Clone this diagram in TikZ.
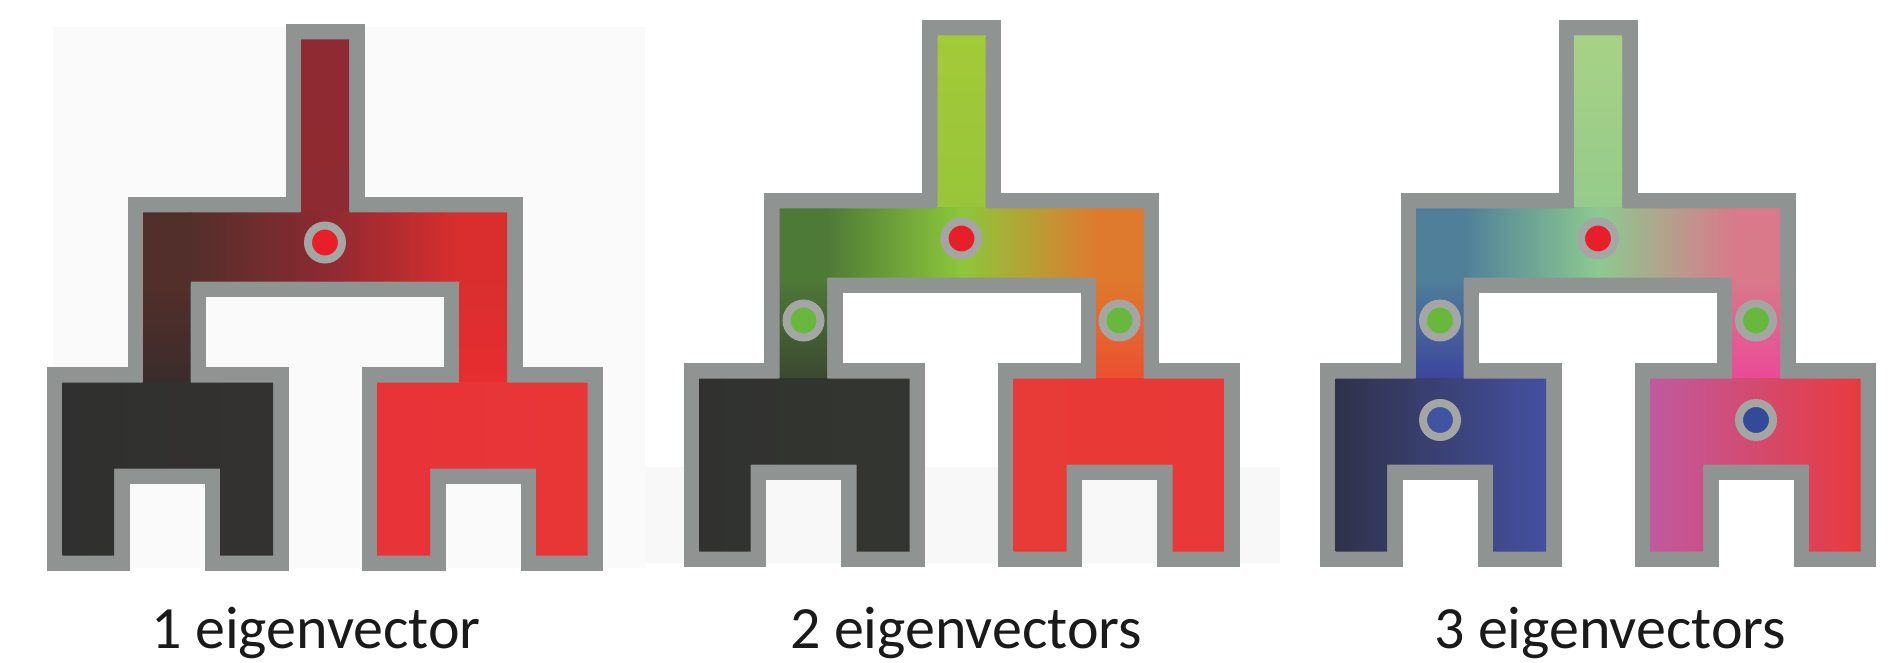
\documentclass[tikz,border=0pt]{standalone}
\usepackage{fontspec}
\setmainfont{Carlito}
\usepackage{xcolor}
\usepackage{tikz}

\definecolor{bordergray}{HTML}{8F9493}
\definecolor{ringgray}{HTML}{A4A6A4}
\definecolor{backdrop}{HTML}{FAFAFA}
\definecolor{backdropband}{HTML}{F8F8F8}
\definecolor{dotred}{HTML}{E81E28}
\definecolor{dotgreen}{HTML}{68B83E}
\definecolor{dotblueA}{HTML}{3F55A2}
\definecolor{dotblueB}{HTML}{34499A}
\definecolor{labelblack}{HTML}{1A1A1A}

% one eigenvector: dark to red
\definecolor{stemT1}{HTML}{902A32}\definecolor{stemB1}{HTML}{8E2A31}
\definecolor{barL1}{HTML}{532F2B}\definecolor{barML1}{HTML}{752B2F}\definecolor{barC1}{HTML}{8C2A31}
\definecolor{barMR1}{HTML}{AE2C31}\definecolor{barR1}{HTML}{DA2E2E}
\definecolor{armLB1}{HTML}{3A2C2C}\definecolor{armRB1}{HTML}{E72D30}
\definecolor{blkLL1}{HTML}{2F302F}\definecolor{blkLM1}{HTML}{3A2C2C}\definecolor{blkLR1}{HTML}{343230}
\definecolor{blkRL1}{HTML}{E83438}\definecolor{blkRM1}{HTML}{E72D30}\definecolor{blkRR1}{HTML}{E83536}

% two eigenvectors: green / orange
\definecolor{stemT2}{HTML}{A3CA37}\definecolor{stemB2}{HTML}{98C53B}
\definecolor{barL2}{HTML}{4E7A37}\definecolor{barML2}{HTML}{74B63C}\definecolor{barC2}{HTML}{8CC73B}
\definecolor{barMR2}{HTML}{ACC038}\definecolor{barR2}{HTML}{DE7A2E}
\definecolor{armLB2}{HTML}{3B4831}\definecolor{armRB2}{HTML}{EC5030}
\definecolor{blkLL2}{HTML}{313230}\definecolor{blkLM2}{HTML}{3B4831}\definecolor{blkLR2}{HTML}{333630}
\definecolor{blkRL2}{HTML}{E83A36}\definecolor{blkRM2}{HTML}{EB4832}\definecolor{blkRR2}{HTML}{E83838}

% three eigenvectors: blue / pink
\definecolor{stemT3}{HTML}{A6D284}\definecolor{stemB3}{HTML}{96CB8C}
\definecolor{barL3}{HTML}{4F7F99}\definecolor{barML3}{HTML}{72BC93}\definecolor{barC3}{HTML}{8CCA90}
\definecolor{barMR3}{HTML}{B6B890}\definecolor{barR3}{HTML}{D87A8A}
\definecolor{armLB3}{HTML}{3C469C}\definecolor{armRB3}{HTML}{EB4A97}
\definecolor{blkLL3}{HTML}{30324A}\definecolor{blkLM3}{HTML}{3C469C}\definecolor{blkLR3}{HTML}{4450A0}
\definecolor{blkRL3}{HTML}{C05AA0}\definecolor{blkRM3}{HTML}{EB4A97}\definecolor{blkRR3}{HTML}{E83A3E}

% outline of one tree, centred on x=0
\newcommand{\treeshape}{(-24,39.5) -- (24,39.5) -- (24,212.5) -- (182,212.5) -- (182,382.5)
  -- (262.5,382.5) -- (262.5,555.5) -- (211,555.5) -- (211,468.5) -- (105,468.5) -- (105,555.5)
  -- (52,555.5) -- (52,382.5) -- (134.5,382.5) -- (134.5,281.5) -- (-134.5,281.5) -- (-134.5,382.5)
  -- (-52,382.5) -- (-52,555.5) -- (-105,555.5) -- (-105,468.5) -- (-211,468.5) -- (-211,555.5)
  -- (-262.5,555.5) -- (-262.5,382.5) -- (-182,382.5) -- (-182,212.5) -- (-24,212.5) -- cycle}

\begin{document}
\begin{tikzpicture}[x=1pt, y=-1pt,
    treeborder/.style={draw=bordergray, line width=31pt},
    dot/.style={circle, draw=ringgray, line width=8pt, minimum size=34pt, inner sep=0pt},
    caption/.style={anchor=base, text=labelblack, font=\fontsize{60pt}{72pt}\selectfont}]
  \useasboundingbox (0,0) rectangle (1900,663);
  \fill[backdrop] (53,27) rectangle (645,568);
  \fill[backdropband] (645,467) rectangle (1280,563);

  % the three trees
  \foreach \t/\cx/\dy in {1/325/0, 2/961.5/-4, 3/1598/-4} {
    \begin{scope}[shift={(\cx,\dy)}]
      \draw[treeborder] \treeshape;
      \begin{scope}
        \clip \treeshape;
        \shade[top color=stemT\t, bottom color=stemB\t] (-25,39) rectangle (25,213);
        % cross bar, flat over the arms
        \fill[barL\t] (-183,212) rectangle (-134.5,282.5);
        \shade[left color=barL\t, middle color=barML\t, right color=barC\t] (-135,212) rectangle (0.5,282);
        \shade[left color=barC\t, middle color=barMR\t, right color=barR\t] (0,212) rectangle (135,282);
        \fill[barR\t] (134.5,212) rectangle (183,282.5);
        % arms
        \shade[top color=barL\t, bottom color=armLB\t] (-183,282) rectangle (-134,383);
        \shade[top color=barR\t, bottom color=armRB\t] (134,282) rectangle (183,383);
        % leaf blocks
        \shade[left color=blkLL\t, middle color=blkLM\t, right color=blkLR\t] (-263,382) rectangle (-51.5,556);
        \shade[left color=blkRL\t, middle color=blkRM\t, right color=blkRR\t] (51.5,382) rectangle (263,556);
      \end{scope}
    \end{scope}
  }

  % split points
  \node[dot, fill=dotred] (root1) at (325,242.5) {};

  \node[dot, fill=dotred] (root2) at (961.5,238.5) {};
  \node[dot, fill=dotgreen] (left2) at (803.5,320.5) {};
  \node[dot, fill=dotgreen] (right2) at (1119.5,320.5) {};

  \node[dot, fill=dotred] (root3) at (1598,238.5) {};
  \node[dot, fill=dotgreen] (left3) at (1440,320.5) {};
  \node[dot, fill=dotgreen] (right3) at (1756,320.5) {};
  \node[dot, fill=dotblueA] (leafL3) at (1440,420) {};
  \node[dot, fill=dotblueB] (leafR3) at (1756,420) {};

  \node[caption] (cap1) at (316,648) {1 eigenvector};
  \node[caption] (cap2) at (966,648) {2 eigenvectors};
  \node[caption] (cap3) at (1610,648) {3 eigenvectors};
\end{tikzpicture}
\end{document}
